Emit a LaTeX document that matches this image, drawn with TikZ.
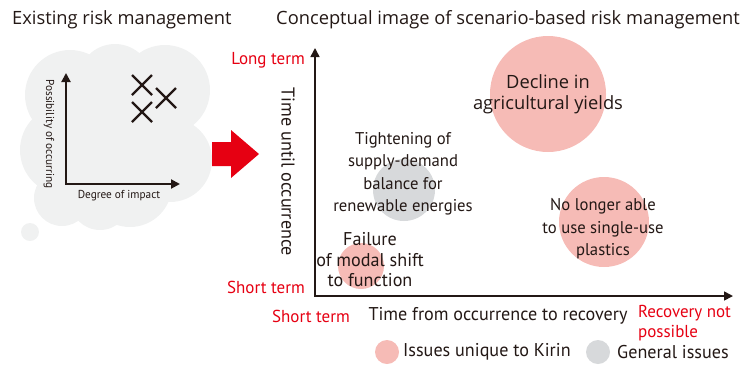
\documentclass[tikz,border=0pt]{standalone}
\usepackage{fontspec}
\setmainfont{Open Sans}
\newfontfamily\condfont[FakeStretch=0.98]{PT Sans}
\usetikzlibrary{arrows.meta}

\definecolor{ink}{HTML}{231815}
\definecolor{kirinred}{HTML}{E60012}
\definecolor{issuepink}{RGB}{246,187,182}
\definecolor{issuegray}{RGB}{215,217,219}
\definecolor{cloudgray}{RGB}{240,241,241}

\begin{document}
\begin{tikzpicture}[x=1pt, y=-1pt, >={Triangle[length=9pt,width=9pt]}]
  \tikzset{
    title/.style={font=\fontsize{18.3}{22}\selectfont, text=ink, anchor=west, inner sep=0pt},
    cond/.style={font=\condfont\fontsize{18.5}{22.5}\selectfont, text=ink, align=center, inner sep=0pt},
    bubbletext/.style={cond, font=\condfont\fontsize{17}{22.5}\selectfont},
    term/.style={cond, font=\condfont\fontsize{17.3}{20}\selectfont, text=kirinred},
    small/.style={font=\condfont\fontsize{11.5}{13}\selectfont, text=ink, inner sep=0pt},
    bubble/.style={circle, inner sep=0pt, minimum size=#1},
    pinkbubble/.style={bubble=#1, fill=issuepink},
    graybubble/.style={bubble=#1, fill=issuegray},
    axis/.style={draw=ink, line width=1.6pt, <->},
    xmark/.style={draw=ink, line width=2.4pt}
  }
  \useasboundingbox (0,0) rectangle (744,365);

  % Titles
  \node[title] (oldtitle) at (12,20) {Existing risk management};
  \node[title] (newtitle) at (276,20) {Conceptual image of scenario-based risk management};

  % Thought cloud
  \foreach \cx/\cy/\r in {70/95/45, 115/81/37, 165/90/45, 65/150/45, 170/160/42,
                          130/185/42, 62/198/28, 100/200/30, 30/232/9}
    \fill[cloudgray] (\cx,\cy) circle (\r);
  \fill[cloudgray] (60,88) rectangle (175,195);

  % Old matrix
  \coordinate (ptop) at (66,73);
  \coordinate (pend) at (180,184);
  \draw[axis, line width=2pt] (ptop) |- (pend);
  \node[small, rotate=-90] (poss) at (49,134) {Possibility of occurring};
  \node[small] (impact) at (119,196) {Degree of impact};
  \foreach \cx/\cy in {142/85, 166/98, 142/112}
    \draw[xmark] (\cx-10,\cy-10) -- (\cx+10,\cy+10) (\cx-10,\cy+10) -- (\cx+10,\cy-10);

  % Red arrow
  \fill[kirinred] (212,142) -- (231,142) -- (231,130) -- (259,154) -- (231,178)
    -- (231,166) -- (212,166) -- cycle;

  % Scenario chart
  \node[pinkbubble=116] (yields) at (548,94) {};
  \node[pinkbubble=90] (plastics) at (604,222) {};
  \node[graybubble=62] (energy) at (404,190) {};
  \node[pinkbubble=46] (modal) at (361,266) {};

  \node[font=\fontsize{18.3}{21}\selectfont, text=ink, align=center, inner sep=0pt]
    (yieldstxt) at (548,94) {Decline in\\agricultural yields};
  \node[bubbletext] (plasticstxt) at (603,229) {No longer able\\to use single-use\\plastics};
  \node[bubbletext] (energytxt) at (403,174) {Tightening of\\supply-demand\\balance for\\renewable energies};
  \node[cond, font=\condfont\fontsize{18.5}{20.5}\selectfont] (modaltxt) at (370,260) {Failure\\of modal shift\\to function};

  % Axes
  \coordinate (ytop) at (315,48);
  \coordinate (xend) at (733,296);
  \draw[axis] (ytop) |- (xend);

  \node[cond, rotate=-90] (ylabel) at (288,172) {Time until occurrence};
  \node[cond] (xlabel) at (498,316) {Time from occurrence to recovery};
  \node[term, anchor=east] (longterm) at (305,60) {Long term};
  \node[term, anchor=east] (shortterm) at (305,287) {Short term};
  \node[term] (xshort) at (311,316) {Short term};
  \node[term, anchor=west, align=left] (norecovery) at (638,323) {Recovery not\\possible};

  % Legend
  \node[pinkbubble=24] (pinkkey) at (387,352) {};
  \node[cond, anchor=west] (pinktxt) at (403,352) {Issues unique to Kirin};
  \node[graybubble=24] (graykey) at (598,352) {};
  \node[cond, anchor=west] (graytxt) at (617,352) {General issues};
\end{tikzpicture}
\end{document}
